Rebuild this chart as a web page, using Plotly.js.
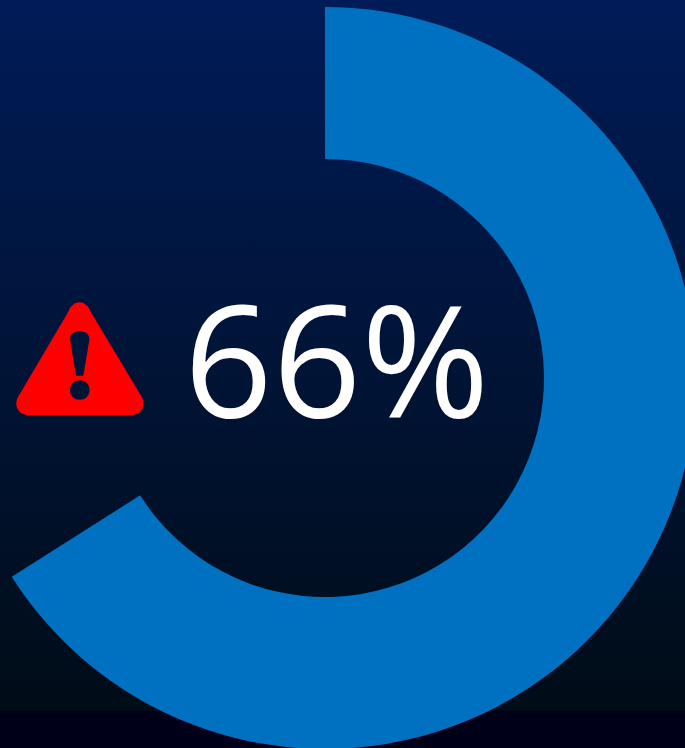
<!DOCTYPE html>
<html>
<head>
<meta charset="utf-8">
<script src="https://cdn.plot.ly/plotly-3.0.1.min.js"></script>
<style>
html,body{margin:0;padding:0;width:685px;height:748px;overflow:hidden;background:linear-gradient(to bottom,#001c58 0px,#000c17 711px,#000018 711px,#000018 748px);}
#chart{position:absolute;left:-46px;top:7px;width:742px;height:742px;}
</style>
</head>
<body>
<div id="chart"></div>
<script>
var categories = ['Progress', 'Remaining'];
var seriesValues = [66, 34];
var sliceColors = ['#0070c0', 'rgba(0,0,0,0)'];
var centerLabel = '66%';

var S = 742, L = -46, T = 7;
function px(x, y) { return ((x - L) / S).toFixed(5) + ',' + (1 - (y - T) / S).toFixed(5); }
var iconPath =
  'M' + px(68.3, 311.7) + ' C' + px(73, 299) + ' ' + px(86, 299) + ' ' + px(90.7, 311.7) +
  ' L' + px(141.5, 396.5) + ' C' + px(146.5, 406) + ' ' + px(141, 415) + ' ' + px(131.7, 415) +
  ' L' + px(28.3, 415) + ' C' + px(19, 415) + ' ' + px(13, 406) + ' ' + px(18.3, 396.5) + ' Z' +
  ' M' + px(70, 339) + ' C' + px(70, 328.5) + ' ' + px(89.5, 328.5) + ' ' + px(89.5, 339) +
  ' L' + px(83.3, 375.7) + ' L' + px(76, 375.7) + ' Z' +
  ' M' + px(70, 390) + ' C' + px(70, 377) + ' ' + px(89.5, 377) + ' ' + px(89.5, 390) +
  ' C' + px(89.5, 403) + ' ' + px(70, 403) + ' ' + px(70, 390) + ' Z';

Plotly.newPlot('chart', [{
  type: 'pie',
  labels: categories,
  values: seriesValues,
  hole: 219 / 371,
  sort: false,
  direction: 'clockwise',
  rotation: 0,
  textinfo: 'none',
  hoverinfo: 'none',
  marker: { colors: sliceColors, line: { width: 0 } },
  domain: { x: [0, 1], y: [0, 1] }
}], {
  width: S,
  height: S,
  margin: { l: 0, r: 0, t: 0, b: 0, pad: 0 },
  paper_bgcolor: 'rgba(0,0,0,0)',
  plot_bgcolor: 'rgba(0,0,0,0)',
  showlegend: false,
  shapes: [{
    type: 'path', xref: 'paper', yref: 'paper', path: iconPath,
    fillcolor: '#ff0000', fillrule: 'evenodd', line: { width: 0 }, layer: 'above'
  }],
  annotations: [{
    text: centerLabel,
    xref: 'paper', yref: 'paper',
    x: (337 - L) / S, y: 1 - (356.5 - T) / S,
    xanchor: 'center', yanchor: 'middle',
    showarrow: false,
    font: { family: '"Open Sans", "Noto Sans", sans-serif', size: 155, weight: 500, color: '#ffffff' }
  }]
}, { displayModeBar: false, staticPlot: true });
</script>
</body>
</html>
